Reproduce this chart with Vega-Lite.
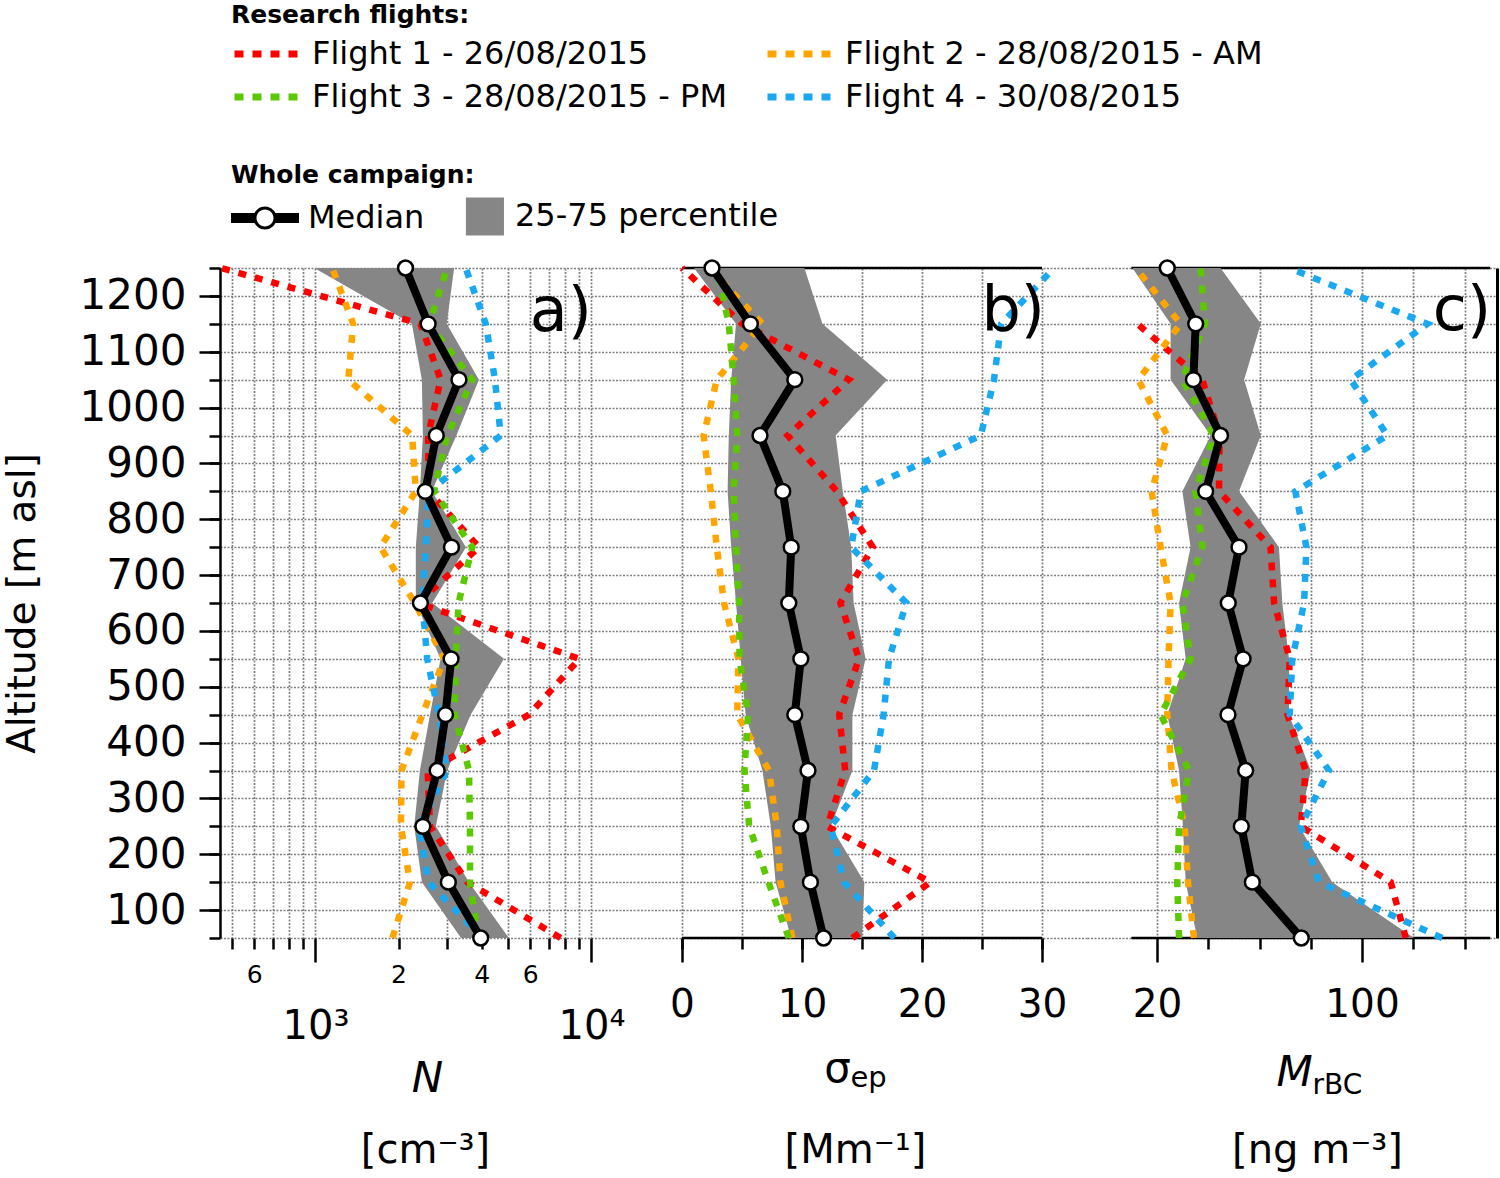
{
"$schema": "https://vega.github.io/schema/vega-lite/v6.json",
"background": "white",
"padding": {"left": 3, "top": 3, "right": 2, "bottom": 2},
"spacing": 0,
"bounds": "flush",
"config": {
 "view": {"stroke": null},
 "font": "DejaVu Sans",
 "axis": {"tickColor": "black", "tickWidth": 2.5, "labelColor": "black", "labelFont": "DejaVu Sans", "titleFont": "DejaVu Sans", "titleColor": "black", "titleFontWeight": "normal", "gridColor": "#808080", "gridDash": [2, 1.5], "gridWidth": 1.7, "gridOpacity": 1, "labelOverlap": false, "labelFlush": false, "domain": false, "labelBound": false},
 "legend": {"padding": 0, "labelFont": "DejaVu Sans", "titleFont": "DejaVu Sans", "labelColor": "black", "titleColor": "black", "labelLimit": 800, "titleLimit": 800}
},
"datasets": {
 "campaign_items": [{"item": "Median"}, {"item": "25-75 percentile"}],
 "a_stats": [
  {"alt": 1250, "median": 2120, "p25": 990, "p75": 3180},
  {"alt": 1150, "median": 2560, "p25": 2235, "p75": 2990},
  {"alt": 1050, "median": 3310, "p25": 2430, "p75": 3910},
  {"alt": 950, "median": 2740, "p25": 2450, "p75": 3240},
  {"alt": 850, "median": 2500, "p25": 2390, "p75": 2640},
  {"alt": 750, "median": 3110, "p25": 2310, "p75": 3510},
  {"alt": 650, "median": 2400, "p25": 2310, "p75": 2650},
  {"alt": 550, "median": 3100, "p25": 2840, "p75": 4820},
  {"alt": 450, "median": 2960, "p25": 2600, "p75": 3650},
  {"alt": 350, "median": 2760, "p25": 2390, "p75": 3000},
  {"alt": 250, "median": 2450, "p25": 2280, "p75": 2730},
  {"alt": 150, "median": 3030, "p25": 2430, "p75": 3600},
  {"alt": 50, "median": 3970, "p25": 3370, "p75": 5020}
 ],
 "a_flights": [
  {"flight": "Flight 1 - 26/08/2015", "alt": 1250, "value": 455},
  {"flight": "Flight 1 - 26/08/2015", "alt": 1150, "value": 2400},
  {"flight": "Flight 1 - 26/08/2015", "alt": 1050, "value": 2840},
  {"flight": "Flight 1 - 26/08/2015", "alt": 950, "value": 2560},
  {"flight": "Flight 1 - 26/08/2015", "alt": 850, "value": 2570},
  {"flight": "Flight 1 - 26/08/2015", "alt": 750, "value": 3910},
  {"flight": "Flight 1 - 26/08/2015", "alt": 650, "value": 2350},
  {"flight": "Flight 1 - 26/08/2015", "alt": 550, "value": 9050},
  {"flight": "Flight 1 - 26/08/2015", "alt": 450, "value": 5940},
  {"flight": "Flight 1 - 26/08/2015", "alt": 350, "value": 2550},
  {"flight": "Flight 1 - 26/08/2015", "alt": 250, "value": 2600},
  {"flight": "Flight 1 - 26/08/2015", "alt": 150, "value": 3550},
  {"flight": "Flight 1 - 26/08/2015", "alt": 50, "value": 7730},
  {"flight": "Flight 2 - 28/08/2015 - AM", "alt": 1250, "value": 1150},
  {"flight": "Flight 2 - 28/08/2015 - AM", "alt": 1150, "value": 1370},
  {"flight": "Flight 2 - 28/08/2015 - AM", "alt": 1050, "value": 1315},
  {"flight": "Flight 2 - 28/08/2015 - AM", "alt": 950, "value": 2240},
  {"flight": "Flight 2 - 28/08/2015 - AM", "alt": 850, "value": 2310},
  {"flight": "Flight 2 - 28/08/2015 - AM", "alt": 750, "value": 1720},
  {"flight": "Flight 2 - 28/08/2015 - AM", "alt": 650, "value": 2290},
  {"flight": "Flight 2 - 28/08/2015 - AM", "alt": 550, "value": 2930},
  {"flight": "Flight 2 - 28/08/2015 - AM", "alt": 450, "value": 2440},
  {"flight": "Flight 2 - 28/08/2015 - AM", "alt": 350, "value": 2050},
  {"flight": "Flight 2 - 28/08/2015 - AM", "alt": 250, "value": 2040},
  {"flight": "Flight 2 - 28/08/2015 - AM", "alt": 150, "value": 2200},
  {"flight": "Flight 2 - 28/08/2015 - AM", "alt": 50, "value": 1900},
  {"flight": "Flight 3 - 28/08/2015 - PM", "alt": 1250, "value": 3000},
  {"flight": "Flight 3 - 28/08/2015 - PM", "alt": 1150, "value": 2580},
  {"flight": "Flight 3 - 28/08/2015 - PM", "alt": 1050, "value": 3700},
  {"flight": "Flight 3 - 28/08/2015 - PM", "alt": 950, "value": 3000},
  {"flight": "Flight 3 - 28/08/2015 - PM", "alt": 850, "value": 2690},
  {"flight": "Flight 3 - 28/08/2015 - PM", "alt": 750, "value": 3700},
  {"flight": "Flight 3 - 28/08/2015 - PM", "alt": 650, "value": 3300},
  {"flight": "Flight 3 - 28/08/2015 - PM", "alt": 550, "value": 3220},
  {"flight": "Flight 3 - 28/08/2015 - PM", "alt": 450, "value": 3190},
  {"flight": "Flight 3 - 28/08/2015 - PM", "alt": 350, "value": 3600},
  {"flight": "Flight 3 - 28/08/2015 - PM", "alt": 250, "value": 3630},
  {"flight": "Flight 3 - 28/08/2015 - PM", "alt": 150, "value": 3630},
  {"flight": "Flight 3 - 28/08/2015 - PM", "alt": 50, "value": 3880},
  {"flight": "Flight 4 - 30/08/2015", "alt": 1250, "value": 3500},
  {"flight": "Flight 4 - 30/08/2015", "alt": 1150, "value": 4140},
  {"flight": "Flight 4 - 30/08/2015", "alt": 1050, "value": 4470},
  {"flight": "Flight 4 - 30/08/2015", "alt": 950, "value": 4690},
  {"flight": "Flight 4 - 30/08/2015", "alt": 850, "value": 2570},
  {"flight": "Flight 4 - 30/08/2015", "alt": 750, "value": 2510},
  {"flight": "Flight 4 - 30/08/2015", "alt": 650, "value": 2440},
  {"flight": "Flight 4 - 30/08/2015", "alt": 550, "value": 2540},
  {"flight": "Flight 4 - 30/08/2015", "alt": 450, "value": 2800},
  {"flight": "Flight 4 - 30/08/2015", "alt": 350, "value": 3000},
  {"flight": "Flight 4 - 30/08/2015", "alt": 250, "value": 2370},
  {"flight": "Flight 4 - 30/08/2015", "alt": 150, "value": 2570},
  {"flight": "Flight 4 - 30/08/2015", "alt": 50, "value": 4020}
 ],
 "b_stats": [
  {"alt": 1250, "median": 2.5, "p25": 1.0, "p75": 10.2},
  {"alt": 1150, "median": 5.7, "p25": 4.5, "p75": 11.7},
  {"alt": 1050, "median": 9.4, "p25": 4.1, "p75": 17.1},
  {"alt": 950, "median": 6.5, "p25": 3.9, "p75": 12.8},
  {"alt": 850, "median": 8.4, "p25": 3.8, "p75": 13.4},
  {"alt": 750, "median": 9.1, "p25": 4.1, "p75": 14.1},
  {"alt": 650, "median": 8.9, "p25": 4.5, "p75": 14.3},
  {"alt": 550, "median": 9.9, "p25": 4.9, "p75": 15.3},
  {"alt": 450, "median": 9.4, "p25": 5.3, "p75": 14.2},
  {"alt": 350, "median": 10.5, "p25": 6.7, "p75": 14.2},
  {"alt": 250, "median": 9.9, "p25": 7.4, "p75": 12.4},
  {"alt": 150, "median": 10.7, "p25": 7.8, "p75": 15.2},
  {"alt": 50, "median": 11.8, "p25": 9.1, "p75": 15.0}
 ],
 "b_flights": [
  {"flight": "Flight 1 - 26/08/2015", "alt": 1250, "value": 0.0},
  {"flight": "Flight 1 - 26/08/2015", "alt": 1150, "value": 5.0},
  {"flight": "Flight 1 - 26/08/2015", "alt": 1050, "value": 13.9},
  {"flight": "Flight 1 - 26/08/2015", "alt": 950, "value": 8.8},
  {"flight": "Flight 1 - 26/08/2015", "alt": 850, "value": 12.9},
  {"flight": "Flight 1 - 26/08/2015", "alt": 750, "value": 15.9},
  {"flight": "Flight 1 - 26/08/2015", "alt": 650, "value": 13.2},
  {"flight": "Flight 1 - 26/08/2015", "alt": 550, "value": 14.75},
  {"flight": "Flight 1 - 26/08/2015", "alt": 450, "value": 13.1},
  {"flight": "Flight 1 - 26/08/2015", "alt": 350, "value": 13.6},
  {"flight": "Flight 1 - 26/08/2015", "alt": 250, "value": 12.1},
  {"flight": "Flight 1 - 26/08/2015", "alt": 150, "value": 20.7},
  {"flight": "Flight 1 - 26/08/2015", "alt": 50, "value": 14.2},
  {"flight": "Flight 2 - 28/08/2015 - AM", "alt": 1250, "value": 2.25},
  {"flight": "Flight 2 - 28/08/2015 - AM", "alt": 1150, "value": 6.7},
  {"flight": "Flight 2 - 28/08/2015 - AM", "alt": 1050, "value": 2.9},
  {"flight": "Flight 2 - 28/08/2015 - AM", "alt": 950, "value": 1.8},
  {"flight": "Flight 2 - 28/08/2015 - AM", "alt": 850, "value": 2.4},
  {"flight": "Flight 2 - 28/08/2015 - AM", "alt": 750, "value": 2.9},
  {"flight": "Flight 2 - 28/08/2015 - AM", "alt": 650, "value": 3.5},
  {"flight": "Flight 2 - 28/08/2015 - AM", "alt": 550, "value": 4.7},
  {"flight": "Flight 2 - 28/08/2015 - AM", "alt": 450, "value": 4.6},
  {"flight": "Flight 2 - 28/08/2015 - AM", "alt": 350, "value": 7.25},
  {"flight": "Flight 2 - 28/08/2015 - AM", "alt": 250, "value": 7.9},
  {"flight": "Flight 2 - 28/08/2015 - AM", "alt": 150, "value": 8.2},
  {"flight": "Flight 2 - 28/08/2015 - AM", "alt": 50, "value": 9.2},
  {"flight": "Flight 3 - 28/08/2015 - PM", "alt": 1250, "value": 2.9},
  {"flight": "Flight 3 - 28/08/2015 - PM", "alt": 1150, "value": 3.9},
  {"flight": "Flight 3 - 28/08/2015 - PM", "alt": 1050, "value": 4.3},
  {"flight": "Flight 3 - 28/08/2015 - PM", "alt": 950, "value": 4.6},
  {"flight": "Flight 3 - 28/08/2015 - PM", "alt": 850, "value": 4.3},
  {"flight": "Flight 3 - 28/08/2015 - PM", "alt": 750, "value": 4.5},
  {"flight": "Flight 3 - 28/08/2015 - PM", "alt": 650, "value": 4.75},
  {"flight": "Flight 3 - 28/08/2015 - PM", "alt": 550, "value": 4.8},
  {"flight": "Flight 3 - 28/08/2015 - PM", "alt": 450, "value": 5.5},
  {"flight": "Flight 3 - 28/08/2015 - PM", "alt": 350, "value": 5.2},
  {"flight": "Flight 3 - 28/08/2015 - PM", "alt": 250, "value": 5.6},
  {"flight": "Flight 3 - 28/08/2015 - PM", "alt": 150, "value": 7.2},
  {"flight": "Flight 3 - 28/08/2015 - PM", "alt": 50, "value": 8.9},
  {"flight": "Flight 4 - 30/08/2015", "alt": 1250, "value": 31.0},
  {"flight": "Flight 4 - 30/08/2015", "alt": 1150, "value": 26.6},
  {"flight": "Flight 4 - 30/08/2015", "alt": 1050, "value": 26.0},
  {"flight": "Flight 4 - 30/08/2015", "alt": 950, "value": 24.9},
  {"flight": "Flight 4 - 30/08/2015", "alt": 850, "value": 14.9},
  {"flight": "Flight 4 - 30/08/2015", "alt": 750, "value": 14.1},
  {"flight": "Flight 4 - 30/08/2015", "alt": 650, "value": 18.7},
  {"flight": "Flight 4 - 30/08/2015", "alt": 550, "value": 17.25},
  {"flight": "Flight 4 - 30/08/2015", "alt": 450, "value": 16.8},
  {"flight": "Flight 4 - 30/08/2015", "alt": 350, "value": 16.0},
  {"flight": "Flight 4 - 30/08/2015", "alt": 250, "value": 12.4},
  {"flight": "Flight 4 - 30/08/2015", "alt": 150, "value": 13.5},
  {"flight": "Flight 4 - 30/08/2015", "alt": 50, "value": 17.7}
 ],
 "c_stats": [
  {"alt": 1250, "median": 24.0, "p25": 10.4, "p75": 44.8},
  {"alt": 1150, "median": 35.1, "p25": 25.3, "p75": 60.5},
  {"alt": 1050, "median": 34.2, "p25": 25.3, "p75": 54.0},
  {"alt": 950, "median": 44.8, "p25": 41.0, "p75": 60.5},
  {"alt": 850, "median": 39.0, "p25": 29.9, "p75": 52.0},
  {"alt": 750, "median": 52.0, "p25": 33.1, "p75": 67.6},
  {"alt": 650, "median": 47.8, "p25": 28.6, "p75": 68.9},
  {"alt": 550, "median": 53.6, "p25": 31.2, "p75": 71.5},
  {"alt": 450, "median": 47.7, "p25": 24.0, "p75": 71.5},
  {"alt": 350, "median": 54.6, "p25": 28.6, "p75": 80.0},
  {"alt": 250, "median": 52.9, "p25": 30.1, "p75": 75.4},
  {"alt": 150, "median": 57.2, "p25": 31.2, "p75": 88.4},
  {"alt": 50, "median": 76.3, "p25": 35.7, "p75": 120.3}
 ],
 "c_flights": [
  {"flight": "Flight 1 - 26/08/2015", "alt": 1150, "value": 12.3},
  {"flight": "Flight 1 - 26/08/2015", "alt": 1050, "value": 37.7},
  {"flight": "Flight 1 - 26/08/2015", "alt": 950, "value": 44.4},
  {"flight": "Flight 1 - 26/08/2015", "alt": 850, "value": 44.2},
  {"flight": "Flight 1 - 26/08/2015", "alt": 750, "value": 64.3},
  {"flight": "Flight 1 - 26/08/2015", "alt": 650, "value": 65.7},
  {"flight": "Flight 1 - 26/08/2015", "alt": 550, "value": 71.8},
  {"flight": "Flight 1 - 26/08/2015", "alt": 450, "value": 70.9},
  {"flight": "Flight 1 - 26/08/2015", "alt": 350, "value": 78.0},
  {"flight": "Flight 1 - 26/08/2015", "alt": 250, "value": 76.1},
  {"flight": "Flight 1 - 26/08/2015", "alt": 150, "value": 111.2},
  {"flight": "Flight 1 - 26/08/2015", "alt": 50, "value": 117.1},
  {"flight": "Flight 2 - 28/08/2015 - AM", "alt": 1250, "value": 11.7},
  {"flight": "Flight 2 - 28/08/2015 - AM", "alt": 1150, "value": 29.2},
  {"flight": "Flight 2 - 28/08/2015 - AM", "alt": 1050, "value": 12.7},
  {"flight": "Flight 2 - 28/08/2015 - AM", "alt": 950, "value": 24.0},
  {"flight": "Flight 2 - 28/08/2015 - AM", "alt": 850, "value": 17.9},
  {"flight": "Flight 2 - 28/08/2015 - AM", "alt": 750, "value": 21.4},
  {"flight": "Flight 2 - 28/08/2015 - AM", "alt": 650, "value": 25.3},
  {"flight": "Flight 2 - 28/08/2015 - AM", "alt": 550, "value": 24.5},
  {"flight": "Flight 2 - 28/08/2015 - AM", "alt": 450, "value": 24.0},
  {"flight": "Flight 2 - 28/08/2015 - AM", "alt": 350, "value": 25.7},
  {"flight": "Flight 2 - 28/08/2015 - AM", "alt": 250, "value": 30.8},
  {"flight": "Flight 2 - 28/08/2015 - AM", "alt": 150, "value": 32.1},
  {"flight": "Flight 2 - 28/08/2015 - AM", "alt": 50, "value": 34.4},
  {"flight": "Flight 3 - 28/08/2015 - PM", "alt": 1250, "value": 37.0},
  {"flight": "Flight 3 - 28/08/2015 - PM", "alt": 1150, "value": 38.7},
  {"flight": "Flight 3 - 28/08/2015 - PM", "alt": 1050, "value": 29.9},
  {"flight": "Flight 3 - 28/08/2015 - PM", "alt": 950, "value": 42.2},
  {"flight": "Flight 3 - 28/08/2015 - PM", "alt": 850, "value": 35.0},
  {"flight": "Flight 3 - 28/08/2015 - PM", "alt": 750, "value": 37.7},
  {"flight": "Flight 3 - 28/08/2015 - PM", "alt": 650, "value": 29.9},
  {"flight": "Flight 3 - 28/08/2015 - PM", "alt": 550, "value": 33.1},
  {"flight": "Flight 3 - 28/08/2015 - PM", "alt": 450, "value": 21.4},
  {"flight": "Flight 3 - 28/08/2015 - PM", "alt": 350, "value": 32.5},
  {"flight": "Flight 3 - 28/08/2015 - PM", "alt": 250, "value": 28.6},
  {"flight": "Flight 3 - 28/08/2015 - PM", "alt": 150, "value": 27.9},
  {"flight": "Flight 3 - 28/08/2015 - PM", "alt": 50, "value": 28.6},
  {"flight": "Flight 4 - 30/08/2015", "alt": 1250, "value": 71.5},
  {"flight": "Flight 4 - 30/08/2015", "alt": 1150, "value": 125.5},
  {"flight": "Flight 4 - 30/08/2015", "alt": 1050, "value": 95.6},
  {"flight": "Flight 4 - 30/08/2015", "alt": 950, "value": 109.9},
  {"flight": "Flight 4 - 30/08/2015", "alt": 850, "value": 74.0},
  {"flight": "Flight 4 - 30/08/2015", "alt": 750, "value": 78.3},
  {"flight": "Flight 4 - 30/08/2015", "alt": 650, "value": 77.4},
  {"flight": "Flight 4 - 30/08/2015", "alt": 550, "value": 72.8},
  {"flight": "Flight 4 - 30/08/2015", "alt": 450, "value": 71.8},
  {"flight": "Flight 4 - 30/08/2015", "alt": 350, "value": 87.1},
  {"flight": "Flight 4 - 30/08/2015", "alt": 250, "value": 76.1},
  {"flight": "Flight 4 - 30/08/2015", "alt": 150, "value": 83.2},
  {"flight": "Flight 4 - 30/08/2015", "alt": 50, "value": 131.3}
 ]
},
"resolve": {"scale": {"color": "shared"}},
"hconcat": [
 {
  "width": 417, "height": 670,
  "resolve": {"axis": {"x": "independent", "y": "independent"}},
  "layer": [
   {"data": {"name": "a_stats"},
    "mark": {"type": "area", "orient": "horizontal", "color": "#868686", "opacity": 1},
    "encoding": {
     "y": {"field": "alt", "type": "quantitative", "scale": {"domain": [50, 1250], "nice": false, "zero": false},
      "axis": {"orient": "left", "values": [100, 200, 300, 400, 500, 600, 700, 800, 900, 1000, 1100, 1200], "format": "d", "tickSize": 21, "domain": true, "domainColor": "black", "domainWidth": 2.5, "labelFontSize": 42, "labelPadding": 13, "grid": false, "title": "Altitude [m asl]", "titleFontSize": 39, "titleX": -198, "titleY": 335, "titleAngle": -90, "titleAlign": "center", "titleBaseline": "middle"}},
     "x": {"field": "p25", "type": "quantitative", "scale": {"type": "log", "domain": [451, 14620], "nice": false},
      "axis": {"orient": "bottom", "values": [500, 600, 700, 800, 900, 2000, 3000, 4000, 5000, 6000, 7000, 8000, 9000], "tickSize": 11, "labelFontSize": 25, "labelPadding": 13, "labelExpr": "datum.value == 600 || datum.value == 6000 ? '6' : datum.value == 2000 ? '2' : datum.value == 4000 ? '4' : ''", "grid": true, "title": "N", "titleFontSize": 42, "titleFontStyle": "italic", "titleX": 207, "titleY": 140, "titleAlign": "center", "titleBaseline": "middle"}},
     "x2": {"field": "p75"}
    }},
   {"data": {"name": "a_flights"},
    "mark": {"type": "line", "strokeWidth": 6.5, "strokeDash": [8, 9], "strokeCap": "butt"},
    "encoding": {
     "y": {"field": "alt", "type": "quantitative",
      "axis": {"orient": "left", "values": [50, 100, 150, 200, 250, 300, 350, 400, 450, 500, 550, 600, 650, 700, 750, 800, 850, 900, 950, 1000, 1050, 1100, 1150, 1200, 1250], "tickSize": 11, "labels": false, "grid": true, "title": null}},
     "x": {"field": "value", "type": "quantitative",
      "axis": {"orient": "bottom", "values": [1000, 10000], "tickSize": 24, "labelFontSize": 40, "labelPadding": 44, "labelExpr": "datum.value == 1000 ? '10³' : '10⁴'", "grid": true, "title": "[cm⁻³]", "titleFontSize": 40, "titleX": 205, "titleY": 212, "titleAlign": "center", "titleBaseline": "middle"}},
     "color": {"field": "flight", "type": "nominal",
      "scale": {"domain": ["Flight 1 - 26/08/2015", "Flight 2 - 28/08/2015 - AM", "Flight 3 - 28/08/2015 - PM", "Flight 4 - 30/08/2015"], "range": ["#ff0000", "#ffa500", "#5cc800", "#1aa8f0"]},
      "legend": {"title": "Research flights:", "values": ["Flight 1 - 26/08/2015", "Flight 3 - 28/08/2015 - PM", "Flight 2 - 28/08/2015 - AM", "Flight 4 - 30/08/2015"], "orient": "none", "legendX": 11, "legendY": -265, "columns": 2, "columnPadding": 26, "rowPadding": 6, "symbolType": "M-1,0H3", "symbolSize": 1225, "symbolStrokeWidth": 7, "symbolDash": [9, 9], "labelFontSize": 32, "labelOffset": 39, "titleFontSize": 25, "titleFontWeight": "bold", "titlePadding": 5,
       "encode": {"symbols": {"update": {"strokeDash": {"value": [9, 9]}, "strokeWidth": {"value": 7}, "opacity": {"value": 1}, "fill": {"value": "transparent"}}}}}},
     "order": {"field": "alt", "type": "quantitative"}
    }},
   {"data": {"name": "a_stats"},
    "mark": {"type": "line", "color": "black", "strokeWidth": 8},
    "encoding": {
     "y": {"field": "alt", "type": "quantitative", "axis": null},
     "x": {"field": "median", "type": "quantitative", "axis": null},
     "order": {"field": "alt", "type": "quantitative"}
    }},
   {"data": {"name": "a_stats"},
    "mark": {"type": "point", "shape": "circle", "filled": true, "fill": "white", "stroke": "black", "strokeWidth": 2.5, "size": 220, "opacity": 1},
    "encoding": {
     "y": {"field": "alt", "type": "quantitative", "axis": null},
     "x": {"field": "median", "type": "quantitative", "axis": null}
    }},
   {"data": {"values": [{}]},
    "mark": {"type": "text", "text": "a)", "fontSize": 62, "font": "DejaVu Sans", "align": "center", "baseline": "middle", "color": "black"},
    "encoding": {
     "x": {"datum": 7750, "type": "quantitative", "axis": null},
     "y": {"datum": 1171, "type": "quantitative", "axis": null}
    }},
   {"data": {"name": "campaign_items"},
    "mark": {"type": "point", "opacity": 0, "filled": true},
    "encoding": {
     "shape": {"field": "item", "type": "nominal",
      "scale": {"domain": ["Median", "25-75 percentile"], "range": ["M-1,-0.147H-0.3V0.147H-1Z M0.3,-0.147H1V0.147H0.3Z M0.34,0A0.34,0.34,0,1,1,-0.34,0A0.34,0.34,0,1,1,0.34,0Z M0.25,0A0.25,0.25,0,1,0,-0.25,0A0.25,0.25,0,1,0,0.25,0Z", "M-0.18,-0.56H0.94V0.56H-0.18Z"]},
      "legend": {"title": "Whole campaign:", "orient": "none", "legendX": 11, "legendY": -105, "columns": 2, "columnPadding": 13, "symbolSize": 4624, "symbolOpacity": 1, "symbolStrokeWidth": 0, "labelFontSize": 32, "labelOffset": 9, "titleFontSize": 25, "titleFontWeight": "bold", "titlePadding": -6,
       "encode": {"symbols": {"update": {"opacity": {"value": 1}, "fillOpacity": {"value": 1}, "strokeWidth": {"value": 0}}}}}},
     "fill": {"field": "item", "type": "nominal",
      "scale": {"domain": ["Median", "25-75 percentile"], "range": ["#000000", "#868686"]},
      "legend": {"title": "Whole campaign:", "orient": "none", "legendX": 11, "legendY": -105, "columns": 2, "columnPadding": 13, "symbolSize": 4624, "symbolOpacity": 1, "symbolStrokeWidth": 0, "labelFontSize": 32, "labelOffset": 9, "titleFontSize": 25, "titleFontWeight": "bold", "titlePadding": -6,
       "encode": {"symbols": {"update": {"opacity": {"value": 1}, "fillOpacity": {"value": 1}, "strokeWidth": {"value": 0}}}}}}
    }}
  ]
 },
 {
  "width": 450, "height": 670,
  "resolve": {"axis": {"x": "independent", "y": "independent"}},
  "layer": [
   {"data": {"values": [{}]},
    "mark": {"type": "rule", "color": "black", "strokeWidth": 2.5},
    "encoding": {
     "x": {"datum": 0, "type": "quantitative", "scale": {"domain": [-3.75, 33.75], "nice": false, "zero": false}, "axis": null},
     "x2": {"datum": 30},
     "y": {"datum": 50, "type": "quantitative", "scale": {"domain": [50, 1250], "nice": false, "zero": false}, "axis": null}
    }},
   {"data": {"values": [{}]},
    "mark": {"type": "rule", "color": "black", "strokeWidth": 2.5},
    "encoding": {
     "x": {"datum": 0, "type": "quantitative", "axis": null},
     "x2": {"datum": 30},
     "y": {"datum": 1250, "type": "quantitative", "axis": null}
    }},
   {"data": {"name": "b_stats"},
    "mark": {"type": "area", "orient": "horizontal", "color": "#868686", "opacity": 1},
    "encoding": {
     "y": {"field": "alt", "type": "quantitative",
      "axis": {"orient": "left", "values": [50, 100, 150, 200, 250, 300, 350, 400, 450, 500, 550, 600, 650, 700, 750, 800, 850, 900, 950, 1000, 1050, 1100, 1150, 1200, 1250], "ticks": false, "labels": false, "grid": true, "title": null}},
     "x": {"field": "p25", "type": "quantitative",
      "axis": {"orient": "bottom", "values": [0, 10, 20, 30], "tickSize": 24, "labelFontSize": 39, "labelPadding": 23, "grid": false, "title": "σ", "titleFontSize": 42, "titleX": 200, "titleY": 130, "titleAlign": "center", "titleBaseline": "middle"}},
     "x2": {"field": "p75"}
    }},
   {"data": {"name": "b_flights"},
    "mark": {"type": "line", "strokeWidth": 6.5, "strokeDash": [8, 9], "strokeCap": "butt"},
    "encoding": {
     "y": {"field": "alt", "type": "quantitative", "axis": null},
     "x": {"field": "value", "type": "quantitative",
      "axis": {"orient": "bottom", "values": [0, 5, 10, 15, 20, 25, 30], "tickSize": 11, "labels": false, "grid": true, "title": "ep", "titleFontSize": 29, "titleX": 231, "titleY": 139, "titleAlign": "center", "titleBaseline": "middle"}},
     "color": {"field": "flight", "type": "nominal", "legend": null},
     "order": {"field": "alt", "type": "quantitative"}
    }},
   {"data": {"name": "b_stats"},
    "mark": {"type": "line", "color": "black", "strokeWidth": 8},
    "encoding": {
     "y": {"field": "alt", "type": "quantitative", "axis": null},
     "x": {"field": "median", "type": "quantitative",
      "axis": {"orient": "bottom", "ticks": false, "labels": false, "grid": false, "title": "[Mm⁻¹]", "titleFontSize": 40, "titleX": 218, "titleY": 212, "titleAlign": "center", "titleBaseline": "middle"}},
     "order": {"field": "alt", "type": "quantitative"}
    }},
   {"data": {"name": "b_stats"},
    "mark": {"type": "point", "shape": "circle", "filled": true, "fill": "white", "stroke": "black", "strokeWidth": 2.5, "size": 220, "opacity": 1},
    "encoding": {
     "y": {"field": "alt", "type": "quantitative", "axis": null},
     "x": {"field": "median", "type": "quantitative", "axis": null}
    }},
   {"data": {"values": [{}]},
    "mark": {"type": "text", "text": "b)", "fontSize": 62, "font": "DejaVu Sans", "align": "center", "baseline": "middle", "color": "black"},
    "encoding": {
     "x": {"datum": 27.6, "type": "quantitative", "axis": null},
     "y": {"datum": 1173, "type": "quantitative", "axis": null}
    }}
  ]
 },
 {
  "width": 410, "height": 670,
  "resolve": {"axis": {"x": "independent", "y": "independent"}},
  "layer": [
   {"data": {"values": [{}]},
    "mark": {"type": "rule", "color": "black", "strokeWidth": 2.5},
    "encoding": {
     "x": {"datum": 10, "type": "quantitative", "scale": {"domain": [-7.32, 152.68], "nice": false, "zero": false}, "axis": null},
     "x2": {"datum": 150},
     "y": {"datum": 50, "type": "quantitative", "scale": {"domain": [50, 1250], "nice": false, "zero": false}, "axis": null}
    }},
   {"data": {"values": [{}]},
    "mark": {"type": "rule", "color": "black", "strokeWidth": 2.5},
    "encoding": {
     "x": {"datum": 10, "type": "quantitative", "axis": null},
     "x2": {"datum": 150},
     "y": {"datum": 1250, "type": "quantitative", "axis": null}
    }},
   {"data": {"name": "c_stats"},
    "mark": {"type": "area", "orient": "horizontal", "color": "#868686", "opacity": 1},
    "encoding": {
     "y": {"field": "alt", "type": "quantitative",
      "axis": {"orient": "left", "values": [50, 100, 150, 200, 250, 300, 350, 400, 450, 500, 550, 600, 650, 700, 750, 800, 850, 900, 950, 1000, 1050, 1100, 1150, 1200, 1250], "ticks": false, "labels": false, "grid": true, "title": null}},
     "x": {"field": "p25", "type": "quantitative",
      "axis": {"orient": "bottom", "values": [20, 100], "tickSize": 24, "labelFontSize": 39, "labelPadding": 23, "grid": true, "title": "M", "titleFontSize": 42, "titleFontStyle": "italic", "titleX": 207, "titleY": 134, "titleAlign": "center", "titleBaseline": "middle"}},
     "x2": {"field": "p75"}
    }},
   {"data": {"name": "c_flights"},
    "mark": {"type": "line", "strokeWidth": 6.5, "strokeDash": [8, 9], "strokeCap": "butt"},
    "encoding": {
     "y": {"field": "alt", "type": "quantitative",
      "axis": {"orient": "right", "domain": true, "domainColor": "black", "domainWidth": 3, "ticks": false, "labels": false, "grid": false, "title": null}},
     "x": {"field": "value", "type": "quantitative",
      "axis": {"orient": "bottom", "values": [40, 60, 80, 120, 140], "tickSize": 11, "labels": false, "grid": true, "title": "rBC", "titleFontSize": 28, "titleX": 250, "titleY": 147, "titleAlign": "center", "titleBaseline": "middle"}},
     "color": {"field": "flight", "type": "nominal", "legend": null},
     "order": {"field": "alt", "type": "quantitative"}
    }},
   {"data": {"name": "c_stats"},
    "mark": {"type": "line", "color": "black", "strokeWidth": 8},
    "encoding": {
     "y": {"field": "alt", "type": "quantitative", "axis": null},
     "x": {"field": "median", "type": "quantitative",
      "axis": {"orient": "bottom", "ticks": false, "labels": false, "grid": false, "title": "[ng m⁻³]", "titleFontSize": 40, "titleX": 230, "titleY": 212, "titleAlign": "center", "titleBaseline": "middle"}},
     "order": {"field": "alt", "type": "quantitative"}
    }},
   {"data": {"name": "c_stats"},
    "mark": {"type": "point", "shape": "circle", "filled": true, "fill": "white", "stroke": "black", "strokeWidth": 2.5, "size": 220, "opacity": 1},
    "encoding": {
     "y": {"field": "alt", "type": "quantitative", "axis": null},
     "x": {"field": "median", "type": "quantitative", "axis": null}
    }},
   {"data": {"values": [{}]},
    "mark": {"type": "text", "text": "c)", "fontSize": 62, "font": "DejaVu Sans", "align": "center", "baseline": "middle", "color": "black"},
    "encoding": {
     "x": {"datum": 139, "type": "quantitative", "axis": null},
     "y": {"datum": 1173, "type": "quantitative", "axis": null}
    }}
  ]
 }
]
}
